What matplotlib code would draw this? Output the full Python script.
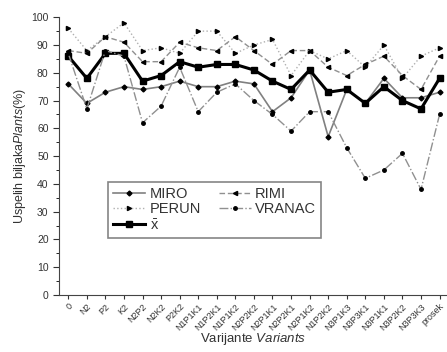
import matplotlib
matplotlib.use('Agg')
import matplotlib.pyplot as plt
from matplotlib.ticker import MultipleLocator
import numpy as np

plt.rcParams['font.family'] = ['Liberation Sans', 'DejaVu Sans']
plt.rcParams['mathtext.fontset'] = 'custom'
plt.rcParams['mathtext.rm'] = 'Liberation Sans'
plt.rcParams['mathtext.it'] = 'Liberation Sans:italic'

variants = ['0', 'N2', 'P2', 'K2', 'N2P2', 'N2K2', 'P2K2', 'N1P1K1', 'N1P2K1',
            'N1P1K2', 'N2P2K2', 'N2P1K1', 'N2P2K1', 'N2P1K2', 'N1P2K2', 'N3P1K3',
            'N3P3K1', 'N3P1K1', 'N3P2K2', 'N3P3K3', 'prosek']

miro = [76, 69, 73, 75, 74, 75, 77, 75, 75, 77, 76, 66, 71, 81, 57, 74, 69, 78, 71, 71, 73]
rimi = [88, 87, 93, 91, 84, 84, 91, 89, 88, 93, 88, 83, 88, 88, 82, 79, 83, 86, 79, 74, 86]
perun = [96, 88, 93, 98, 88, 89, 87, 95, 95, 87, 90, 92, 79, 88, 85, 88, 82, 90, 78, 86, 89]
vranac = [87, 67, 88, 86, 62, 68, 82, 66, 73, 76, 70, 65, 59, 66, 66, 53, 42, 45, 51, 38, 65]
mean_x = [86, 78, 87, 87, 77, 79, 84, 82, 83, 83, 81, 77, 74, 81, 73, 74, 69, 75, 70, 67, 78]

x = np.arange(len(variants))

fig = plt.figure(figsize=(4.47, 3.52), dpi=100)
ax = fig.add_axes([0.132, 0.162, 0.868, 0.789])

ax.plot(x, miro, color='#808080', lw=1.2, ls='-', marker='D', ms=2.5,
        mfc='black', mec='black', label='MIRO')
ax.plot(x, perun, color='#b0b0b0', lw=1.0, ls=':', marker='>', ms=3,
        mfc='black', mec='black', label='PERUN')
ax.plot(x, mean_x, color='black', lw=2.2, ls='-', marker='s', ms=5,
        mfc='black', mec='black', label=r'$\bar{\mathrm{x}}$')
ax.plot(x, rimi, color='#909090', lw=1.0, ls=(0, (4, 2)), marker='<', ms=3,
        mfc='black', mec='black', label='RIMI')
ax.plot(x, vranac, color='#909090', lw=1.0, ls='-.', marker='o', ms=2.5,
        mfc='black', mec='black', label='VRANAC')

ax.set_xlim(-0.5, 20.4)
ax.set_ylim(0, 100)
ax.set_xticks(x)
ax.set_xticklabels(variants, rotation=45, ha='right', rotation_mode='anchor',
                   fontsize=6.5, color='#333333')
ax.yaxis.set_major_locator(MultipleLocator(10))
ax.yaxis.set_minor_locator(MultipleLocator(5))
ax.tick_params(axis='both', direction='out', colors='#333333')
ax.tick_params(axis='y', which='major', length=4, labelsize=7.5)
ax.tick_params(axis='y', which='minor', length=2)
ax.tick_params(axis='x', length=3, pad=2)

for side in ['top', 'right']:
    ax.spines[side].set_visible(False)
for side in ['left', 'bottom']:
    ax.spines[side].set_color('#444444')

ax.set_ylabel(r'Uspelih biljaka$\mathit{Plants}$(%)', fontsize=9, color='#333333', labelpad=2)
ax.set_xlabel(r'Varijante $\mathit{Variants}$', fontsize=9.5, color='#333333', labelpad=-1)

leg = ax.legend(ncol=2, loc='lower left', bbox_to_anchor=(0.108, 0.18),
                fontsize=10.5, frameon=True, fancybox=False, handlelength=2.2,
                handletextpad=0.3, columnspacing=1.2, labelspacing=0.1,
                borderpad=0.35)
leg.get_frame().set_edgecolor('#666666')
leg.get_frame().set_linewidth(1.2)
for t in leg.get_texts():
    t.set_color('#333333')

fig.savefig('out.png', dpi=100)
